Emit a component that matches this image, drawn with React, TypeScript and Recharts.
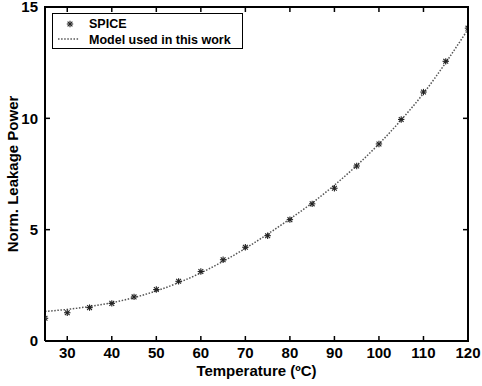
import React from 'react';
import { LineChart, Line, XAxis, YAxis } from 'recharts';

const temperatures = [25, 30, 35, 40, 45, 50, 55, 60, 65, 70, 75, 80, 85, 90, 95, 100, 105, 110, 115, 120];
const spiceValues = [1.02, 1.27, 1.5, 1.69, 1.98, 2.31, 2.68, 3.12, 3.65, 4.21, 4.73, 5.45, 6.16, 6.86, 7.86, 8.85, 9.95, 11.18, 12.56, 14.05];
const modelValues = [1.33, 1.42, 1.55, 1.72, 1.95, 2.25, 2.62, 3.06, 3.58, 4.16, 4.8, 5.48, 6.2, 7.0, 7.88, 8.85, 9.93, 11.12, 12.5, 14.0];
const xTicks = [30, 40, 50, 60, 70, 80, 90, 100, 110, 120];
const yTicks = [0, 5, 10, 15];
const xMin = 25;
const xMax = 120;
const yMin = 0;
const yMax = 15;

const data = temperatures.map((t, i) => ({ t, spice: spiceValues[i], model: modelValues[i] }));

// layout constants
const CHART_W = 482;
const CHART_H = 386;
const MARGIN = { top: 7, right: 14, bottom: 0, left: 0 };
const Y_AXIS_W = 45;
const X_AXIS_H = 45;
const PLOT_LEFT = MARGIN.left + Y_AXIS_W;
const PLOT_RIGHT = CHART_W - MARGIN.right;
const PLOT_TOP = MARGIN.top;
const PLOT_BOTTOM = CHART_H - MARGIN.bottom - X_AXIS_H;

const FONT = '"Liberation Sans", Arial, Helvetica, sans-serif';

const StarMarker = (props: any) => {
  const { cx, cy } = props;
  if (cx == null || cy == null) return null;
  const r = 3.2;
  const d = r * 0.75;
  return (
    <g stroke="#222" strokeWidth={1.1}>
      <line x1={cx - r} y1={cy} x2={cx + r} y2={cy} />
      <line x1={cx} y1={cy - r} x2={cx} y2={cy + r} />
      <line x1={cx - d} y1={cy - d} x2={cx + d} y2={cy + d} />
      <line x1={cx - d} y1={cy + d} x2={cx + d} y2={cy - d} />
    </g>
  );
};

const XTick = (props: any) => {
  const { x, y, payload } = props;
  const v = payload?.value;
  return (
    <g>
      <text
        x={x}
        y={y}
        dy="0.71em"
        textAnchor="middle"
        style={{ fontFamily: FONT, fontSize: 15, fontWeight: 700, fill: '#000' }}
      >
        {v}
      </text>
      <path d={`M${x},${PLOT_TOP}V${PLOT_TOP + 5}`} style={{ stroke: '#000', strokeWidth: 1.5, fill: 'none' }} />
    </g>
  );
};

const YTick = (props: any) => {
  const { x, y, payload } = props;
  const v = payload?.value;
  return (
    <g>
      <text
        x={x}
        y={y}
        dy="0.355em"
        textAnchor="end"
        style={{ fontFamily: FONT, fontSize: 15, fontWeight: 700, fill: '#000' }}
      >
        {v}
      </text>
      <path d={`M${PLOT_RIGHT - 5},${y}H${PLOT_RIGHT}`} style={{ stroke: '#000', strokeWidth: 1.5, fill: 'none' }} />
    </g>
  );
};

const LegendBox = () => (
  <div
    style={{
      position: 'absolute',
      left: 52,
      top: 13,
      width: 191,
      height: 36,
      border: '1px solid #000',
      boxSizing: 'border-box',
      background: '#fff',
      fontFamily: FONT,
      fontWeight: 700,
      fontSize: 12.5,
      color: '#000',
    }}
  >
    <svg width={40} height={36} style={{ position: 'absolute', left: 0, top: 0 }}>
      <StarMarker cx={17} cy={10} />
      <line x1={5} y1={25} x2={26} y2={25} stroke="#555" strokeWidth={1.5} strokeDasharray="1.5 1.6" />
    </svg>
    <div style={{ position: 'absolute', left: 36, top: 2, lineHeight: '16px', whiteSpace: 'nowrap' }}>SPICE</div>
    <div style={{ position: 'absolute', left: 36, top: 18, lineHeight: '16px', whiteSpace: 'nowrap' }}>Model used in this work</div>
  </div>
);

// plot frame (top and right edges of the axes box)
const Frame = () => (
  <div
    style={{
      position: 'absolute',
      left: PLOT_LEFT - 1,
      top: PLOT_TOP - 1,
      width: PLOT_RIGHT - PLOT_LEFT + 2,
      height: PLOT_BOTTOM - PLOT_TOP + 2,
      borderTop: '2px solid #000',
      borderRight: '2px solid #000',
      boxSizing: 'border-box',
      pointerEvents: 'none',
    }}
  />
);

export default function App() {
  return (
    <div style={{ position: 'absolute', left: 0, top: 0, width: CHART_W, height: CHART_H, background: '#fff' }}>
      <LineChart width={CHART_W} height={CHART_H} data={data} margin={MARGIN}>
        <XAxis
          dataKey="t"
          type="number"
          domain={[xMin, xMax]}
          ticks={xTicks}
          allowDataOverflow
          height={X_AXIS_H}
          tickSize={-5}
          tickMargin={11}
          axisLine={{ stroke: '#000', strokeWidth: 2 }}
          tickLine={{ stroke: '#000', strokeWidth: 1.5 }}
          tick={(p: any) => <XTick {...p} />}
          interval={0}
          label={{
            value: 'Temperature (ºC)',
            position: 'insideBottom',
            offset: 10,
            style: { fontFamily: FONT, fontSize: 15, fontWeight: 700, fill: '#000' },
          }}
        />
        <YAxis
          type="number"
          domain={[yMin, yMax]}
          ticks={yTicks}
          allowDataOverflow
          width={Y_AXIS_W}
          tickSize={-5}
          tickMargin={12}
          axisLine={{ stroke: '#000', strokeWidth: 2 }}
          tickLine={{ stroke: '#000', strokeWidth: 1.5 }}
          tick={(p: any) => <YTick {...p} />}
          interval={0}
          label={{
            value: 'Norm. Leakage Power',
            angle: -90,
            position: 'insideLeft',
            offset: 13,
            style: { textAnchor: 'middle', fontFamily: FONT, fontSize: 15, fontWeight: 700, fill: '#000' },
          }}
        />
        <Line
          dataKey="model"
          type="monotone"
          stroke="#555"
          strokeWidth={1.5}
          strokeDasharray="1.5 1.6"
          dot={false}
          activeDot={false}
          isAnimationActive={false}
        />
        <Line
          dataKey="spice"
          stroke="none"
          dot={<StarMarker />}
          activeDot={false}
          isAnimationActive={false}
        />
      </LineChart>
      <Frame />
      <LegendBox />
    </div>
  );
}
